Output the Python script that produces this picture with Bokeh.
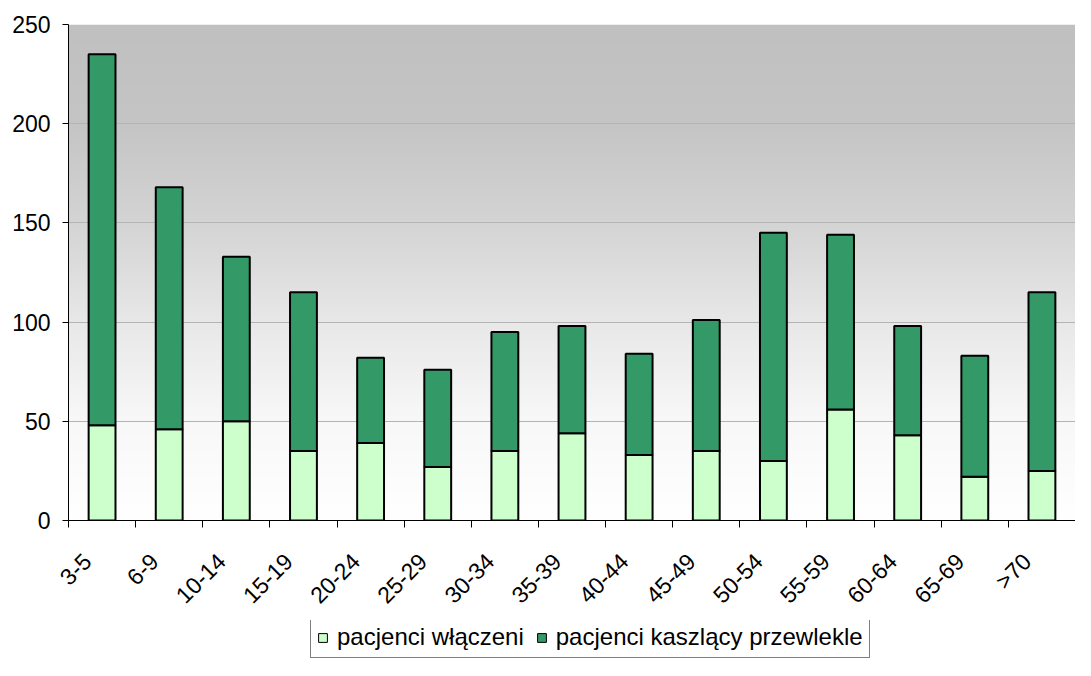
import numpy as np
from bokeh.plotting import figure
from bokeh.layouts import column
from bokeh.models import (Range1d, FixedTicker, ColumnDataSource, Legend, LegendItem)
from bokeh.embed import file_html
from bokeh.resources import INLINE
from math import pi

# ---- data ----
categories = ["3-5", "6-9", "10-14", "15-19", "20-24", "25-29", "30-34", "35-39",
              "40-44", "45-49", "50-54", "55-59", "60-64", "65-69", ">70"]
wlaczeni = [48, 46, 50, 35, 39, 27, 35, 44, 33, 35, 30, 56, 43, 22, 25]
kaszlacy = [187, 122, 83, 80, 43, 49, 60, 54, 51, 66, 115, 88, 55, 61, 90]
series_names = ["pacjenci włączeni", "pacjenci kaszlący przewlekle"]
series_colors = ["#CCFFCC", "#339966"]
y_ticks = [0, 50, 100, 150, 200, 250]

FONT = "Liberation Sans"
n = len(categories)
xs = list(range(n))

p = figure(width=1075, height=620, output_backend="svg", toolbar_location=None,
           x_range=Range1d(-0.5, n - 0.5), y_range=Range1d(0, 250),
           min_border_left=68, min_border_right=0, min_border_top=24,
           min_border_bottom=100)
p.outline_line_color = None
p.background_fill_color = "white"
p.border_fill_color = "white"

# gradient plot-area background (grey at top -> white at bottom)
rows = 250
yy = np.linspace(0, 250, rows)
lvl = np.interp(yy, [0, 50, 100, 150, 200, 250], [255, 248, 232, 212, 197, 192])
img = np.empty((rows, 1), dtype=np.uint32)
view = img.view(dtype=np.uint8).reshape((rows, 1, 4))
view[:, 0, 0] = lvl.astype(np.uint8)
view[:, 0, 1] = lvl.astype(np.uint8)
view[:, 0, 2] = lvl.astype(np.uint8)
view[:, 0, 3] = 255
p.image_rgba(image=[img], x=-0.5, y=0, dw=n, dh=250, level="image")

src = ColumnDataSource(dict(x=xs, wl=wlaczeni, ka=kaszlacy))
rs = p.vbar_stack(["wl", "ka"], x="x", width=0.4, source=src,
                  fill_color=series_colors, line_color="black", line_width=2)

# grid
p.xgrid.visible = False
p.ygrid.ticker = FixedTicker(ticks=y_ticks[1:-1])
p.ygrid.grid_line_color = "#b4b4b4"
p.ygrid.grid_line_width = 1

# y axis
p.yaxis.ticker = FixedTicker(ticks=y_ticks)
p.yaxis.minor_tick_line_color = None
p.yaxis.major_tick_out = 6
p.yaxis.major_tick_in = 0
p.yaxis.major_tick_line_color = "black"
p.yaxis.axis_line_color = "black"
p.yaxis.major_label_text_font = FONT
p.yaxis.major_label_text_font_size = "23px"
p.yaxis.major_label_text_color = "black"
p.yaxis.major_label_standoff = 12

# x axis: labels slightly left of bar centre, ticks between categories
label_pos = [round(i - 0.22, 2) for i in xs]
p.xaxis.ticker = FixedTicker(ticks=label_pos, minor_ticks=[i - 0.5 for i in range(n + 1)])
p.xaxis.major_label_overrides = {lp: c for lp, c in zip(label_pos, categories)}
p.xaxis.major_tick_out = 0
p.xaxis.major_tick_in = 0
p.xaxis.minor_tick_out = 7
p.xaxis.minor_tick_in = 0
p.xaxis.minor_tick_line_color = "black"
p.xaxis.axis_line_color = "black"
p.xaxis.major_label_orientation = pi / 4
p.xaxis.major_label_text_font = FONT
p.xaxis.major_label_text_font_size = "23px"
p.xaxis.major_label_text_color = "black"
p.xaxis.major_label_standoff = 30

# ---- legend in its own strip below the chart ----
lg = figure(width=1075, height=40, output_backend="svg", toolbar_location=None,
            x_range=Range1d(0, 1), y_range=Range1d(0, 1),
            x_axis_type=None, y_axis_type=None, min_border=0)
lg.outline_line_color = None
lg.xgrid.visible = False
lg.ygrid.visible = False
lg.background_fill_color = "white"
lg.border_fill_color = "white"
proxies = [lg.vbar(x="x", top=col, width=0.4, source=src, fill_color=c,
                   line_color="black", line_width=1, visible=False)
           for col, c in zip(["wl", "ka"], series_colors)]
legend = Legend(items=[LegendItem(label=nm, renderers=[r]) for nm, r in zip(series_names, proxies)],
                orientation="horizontal", location=(242, 2))
legend.margin = 0
legend.inactive_fill_alpha = 0
legend.label_text_font = FONT
legend.label_text_font_size = "24px"
legend.label_text_color = "black"
legend.glyph_width = 11
legend.glyph_height = 11
legend.label_standoff = 9
legend.spacing = 12
legend.padding = 6
legend.border_line_color = "black"
legend.border_line_width = 1
legend.background_fill_color = "white"
legend.background_fill_alpha = 1
lg.add_layout(legend, "center")

layout = column(p, lg, spacing=0)
open("out.html", "w").write(file_html(layout, INLINE))
